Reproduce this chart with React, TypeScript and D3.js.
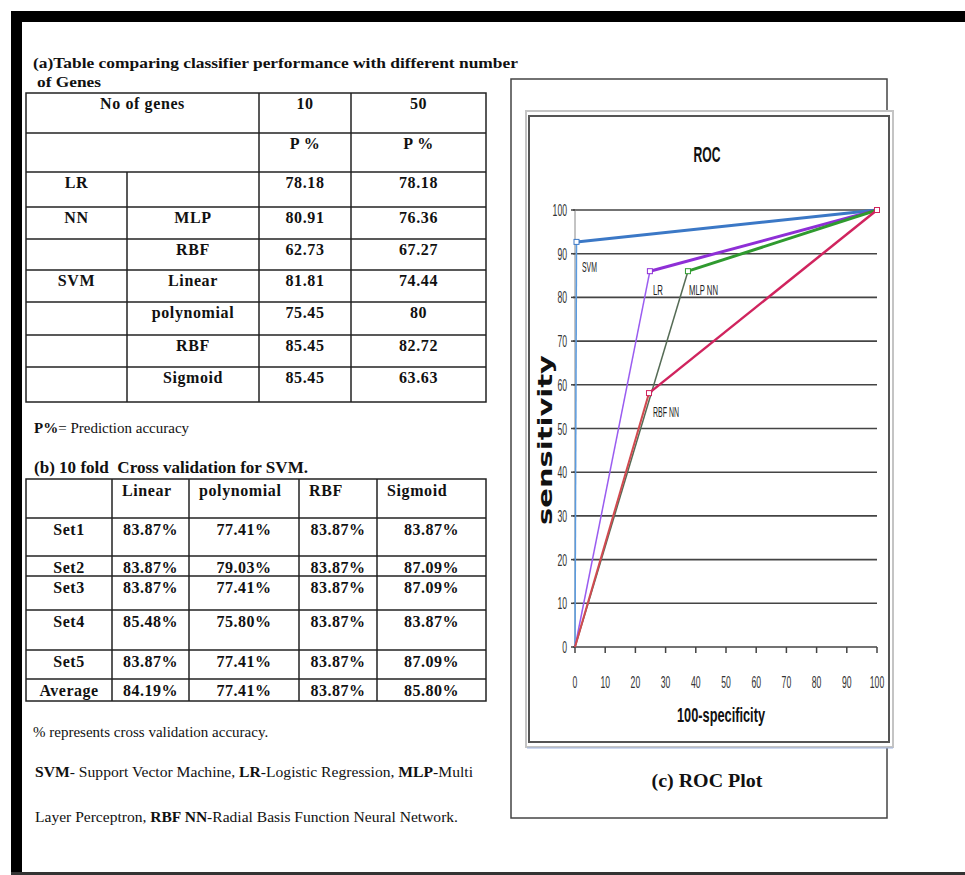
import React from "react";
import * as d3 from "d3";

// ---------- data ----------
const tableATitle1 = "(a)Table comparing classifier performance with different number";
const tableATitle2 = "of Genes";
const geneCounts = ["10", "50"];
const classifierGroup = ["LR", "NN", "", "SVM", "", "", ""];
const classifierType = ["", "MLP", "RBF", "Linear", "polynomial", "RBF", "Sigmoid"];
const p10 = ["78.18", "80.91", "62.73", "81.81", "75.45", "85.45", "85.45"];
const p50 = ["78.18", "76.36", "67.27", "74.44", "80", "82.72", "63.63"];

const tableBTitle = "(b) 10 fold  Cross validation for SVM.";
const svmKernels = ["Linear", "polynomial", "RBF", "Sigmoid"];
const cvSets = ["Set1", "Set2", "Set3", "Set4", "Set5", "Average"];
const cvLinear = ["83.87%", "83.87%", "83.87%", "85.48%", "83.87%", "84.19%"];
const cvPoly = ["77.41%", "79.03%", "77.41%", "75.80%", "77.41%", "77.41%"];
const cvRbf = ["83.87%", "83.87%", "83.87%", "83.87%", "83.87%", "83.87%"];
const cvSigmoid = ["83.87%", "87.09%", "87.09%", "83.87%", "87.09%", "85.80%"];

const rocNames = ["SVM", "LR", "MLP NN", "RBF NN"];
const svmFpr = [0, 0.5, 100];
const svmTpr = [0, 92.7, 100];
const lrFpr = [0, 24.8, 100];
const lrTpr = [0, 86, 100];
const mlpFpr = [0, 37.4, 100];
const mlpTpr = [0, 86, 100];
const rbfFpr = [0, 24.5, 100];
const rbfTpr = [0, 58.1, 100];
const axisTicks = [0, 10, 20, 30, 40, 50, 60, 70, 80, 90, 100];

// ---------- layout ----------
const W = 965, H = 875;
const serif = "'Liberation Serif', 'Times New Roman', serif";
const narrow = "'Liberation Sans Narrow', 'Liberation Sans', Arial, sans-serif";

const aLeft = 26, aRight = 486;
const aCols = [26, 127, 259, 351, 486];
const aRows = [93, 133, 172, 207, 239, 270, 302, 335, 367, 402];

const bCols = [26, 112, 189, 299, 377, 486];
const bRows = [479, 518, 556, 576, 610, 650, 679, 701];

const x = d3.scaleLinear().domain([0, 100]).range([575, 877]);
const y = d3.scaleLinear().domain([0, 100]).range([647, 210]);

const seriesStyle = [
  { upper: "#3b78c6", lower: "#5a9be0", wU: 3, wL: 1.5, lab: [582, 272], lw: 15 },
  { upper: "#8e2fd6", lower: "#9a5cf0", wU: 3, wL: 1.5, lab: [653, 295], lw: 10 },
  { upper: "#2f9a2f", lower: "#556b55", wU: 3, wL: 1.5, lab: [689, 295], lw: 29 },
  { upper: "#d0245e", lower: "#d24a50", wU: 2.5, wL: 2, lab: [653, 417], lw: 26 },
];

const rocFpr = [svmFpr, lrFpr, mlpFpr, rbfFpr];
const rocTpr = [svmTpr, lrTpr, mlpTpr, rbfTpr];

const line = d3.line<[number, number]>().x((d) => x(d[0])).y((d) => y(d[1]));

export default function App() {
  const cellA = (txt: string, c0: number, c1: number, r: number, key: string) => (
    <text key={key} x={(c0 + c1) / 2} y={r + 16} textAnchor="middle" fontFamily={serif}
      fontWeight="bold" fontSize={16} letterSpacing={0.6} fill="#111">{txt}</text>
  );
  return (
    <svg width={W} height={H} style={{ position: "absolute", left: 0, top: 0 }}
      xmlns="http://www.w3.org/2000/svg">
      <rect x={0} y={0} width={W} height={H} fill="#fff" />
      {/* page border */}
      <rect x={11} y={11} width={W - 11} height={11} fill="#000" />
      <rect x={11} y={11} width={11} height={H - 11} fill="#000" />
      <rect x={11} y={872} width={W - 11} height={3} fill="#333" />

      {/* ----- Table (a) ----- */}
      <text x={33} y={68} fontFamily={serif} fontWeight="bold" fontSize={15} textLength={485}
        lengthAdjust="spacingAndGlyphs" fill="#111">{tableATitle1}</text>
      <text x={37} y={87} fontFamily={serif} fontWeight="bold" fontSize={15} textLength={64}
        lengthAdjust="spacingAndGlyphs" fill="#111">{tableATitle2}</text>
      <g stroke="#222" strokeWidth={1.5} fill="none">
        <rect x={aLeft} y={aRows[0]} width={aRight - aLeft} height={aRows[aRows.length - 1] - aRows[0]} />
        {aRows.slice(1, -1).map((r) => <line key={r} x1={aLeft} x2={aRight} y1={r} y2={r} />)}
        <line x1={aCols[1]} x2={aCols[1]} y1={aRows[2]} y2={aRows[aRows.length - 1]} />
        <line x1={aCols[2]} x2={aCols[2]} y1={aRows[0]} y2={aRows[aRows.length - 1]} />
        <line x1={aCols[3]} x2={aCols[3]} y1={aRows[0]} y2={aRows[aRows.length - 1]} />
      </g>
      {cellA("No of genes", aCols[0], aCols[2], aRows[0], "hdr")}
      {geneCounts.map((g, i) => cellA(g, aCols[2 + i], aCols[3 + i], aRows[0], "g" + i))}
      {geneCounts.map((g, i) => cellA("P %", aCols[2 + i], aCols[3 + i], aRows[1], "p" + i))}
      {classifierGroup.map((g, i) => (
        <g key={"ra" + i}>
          {g && cellA(g, aCols[0], aCols[1], aRows[2 + i], "cg" + i)}
          {classifierType[i] && cellA(classifierType[i], aCols[1], aCols[2], aRows[2 + i], "ct" + i)}
          {cellA(p10[i], aCols[2], aCols[3], aRows[2 + i], "a10" + i)}
          {cellA(p50[i], aCols[3], aCols[4], aRows[2 + i], "a50" + i)}
        </g>
      ))}

      <text x={34} y={433} fontFamily={serif} fontSize={15} fill="#111">
        <tspan fontWeight="bold">P%</tspan>= Prediction accuracy
      </text>

      {/* ----- Table (b) ----- */}
      <text x={34} y={473} fontFamily={serif} fontWeight="bold" fontSize={16} textLength={274}
        lengthAdjust="spacingAndGlyphs" fill="#111" style={{ whiteSpace: "pre" }}>{tableBTitle}</text>
      <g stroke="#222" strokeWidth={1.5} fill="none">
        <rect x={bCols[0]} y={bRows[0]} width={bCols[5] - bCols[0]} height={bRows[7] - bRows[0]} />
        {bRows.slice(1, -1).map((r) => <line key={r} x1={bCols[0]} x2={bCols[5]} y1={r} y2={r} />)}
        {bCols.slice(1, -1).map((c) => <line key={c} x1={c} x2={c} y1={bRows[0]} y2={bRows[7]} />)}
      </g>
      {svmKernels.map((k, i) => (
        <text key={k} x={bCols[1 + i] + 10} y={bRows[0] + 17} fontFamily={serif} fontWeight="bold"
          fontSize={16} letterSpacing={0.6} fill="#111">{k}</text>
      ))}
      {cvSets.map((s, i) => {
        const vals = [s, cvLinear[i], cvPoly[i], cvRbf[i], cvSigmoid[i]];
        return (
          <g key={s}>
            {vals.map((v, j) => (
              <text key={j} x={(bCols[j] + bCols[j + 1]) / 2} y={bRows[1 + i] + 16.5} textAnchor="middle"
                fontFamily={serif} fontWeight="bold" fontSize={16} letterSpacing={0.5} fill="#111">{v}</text>
            ))}
          </g>
        );
      })}

      {/* notes */}
      <text x={33} y={737} fontFamily={serif} fontSize={15} fill="#111">% represents cross validation accuracy.</text>
      <text x={35} y={777} fontFamily={serif} fontSize={15} fill="#111" textLength={438} lengthAdjust="spacingAndGlyphs">
        <tspan fontWeight="bold">SVM</tspan>- Support Vector Machine, <tspan fontWeight="bold">LR</tspan>-Logistic Regression, <tspan fontWeight="bold">MLP</tspan>-Multi
      </text>
      <text x={35} y={822} fontFamily={serif} fontSize={15} fill="#111" textLength={423} lengthAdjust="spacingAndGlyphs">
        Layer Perceptron, <tspan fontWeight="bold">RBF NN</tspan>-Radial Basis Function Neural Network.
      </text>

      {/* ----- ROC panel ----- */}
      <rect x={511} y={79} width={376} height={739} fill="#fff" stroke="#444" strokeWidth={1.5} />
      <rect x={526} y={111} width={367} height={636} fill="#fff" stroke="#c4c4c4" strokeWidth={2} />
      <rect x={529} y={116} width={360} height={626} fill="#fff" stroke="#555" strokeWidth={2} />
      <line x1={527} x2={893} y1={748} y2={748} stroke="#9fb4e0" strokeWidth={1} />

      <text x={707} y={162} textAnchor="middle" fontFamily={narrow} fontWeight="bold" fontSize={22}
        textLength={27} lengthAdjust="spacingAndGlyphs" fill="#111">ROC</text>

      {/* grid */}
      <g>
        {axisTicks.map((t) => (
          <line key={"g" + t} x1={x(0) - 2} x2={x(100)} y1={y(t)} y2={y(t)} stroke="#444" strokeWidth={1.6} />
        ))}
        <line x1={x(0)} x2={x(0)} y1={y(0)} y2={y(100)} stroke="#888" strokeWidth={1} />
        {axisTicks.map((t) => (
          <line key={"xt" + t} x1={x(t)} x2={x(t)} y1={y(0)} y2={y(0) + 6} stroke="#444" strokeWidth={1.5} />
        ))}
        {axisTicks.map((t) => (
          <line key={"yt" + t} x1={x(0) - 4} x2={x(0)} y1={y(t)} y2={y(t)} stroke="#444" strokeWidth={1.5} />
        ))}
        {axisTicks.map((t) => (
          <text key={"yl" + t} x={567} y={y(t) + 6} textAnchor="end" fontFamily={narrow} fontSize={17}
            textLength={String(t).length * 4.8} lengthAdjust="spacingAndGlyphs" fill="#333">{t}</text>
        ))}
        {axisTicks.map((t) => (
          <text key={"xl" + t} x={x(t)} y={688} textAnchor="middle" fontFamily={narrow} fontSize={17}
            textLength={String(t).length * 4.8} lengthAdjust="spacingAndGlyphs" fill="#333">{t}</text>
        ))}
      </g>
      <text x={721} y={722} textAnchor="middle" fontFamily={narrow} fontWeight="bold" fontSize={20}
        textLength={88} lengthAdjust="spacingAndGlyphs" fill="#111">100-specificity</text>
      <text transform={`translate(552,440) rotate(-90)`} textAnchor="middle" fontFamily="'DejaVu Sans', sans-serif"
        fontWeight="900" fontSize={20} textLength={170} lengthAdjust="spacingAndGlyphs" fill="#111">sensitivity</text>

      {/* series */}
      {rocNames.map((name, i) => {
        const pts: [number, number][] = rocFpr[i].map((f, k) => [f, rocTpr[i][k]]);
        const st = seriesStyle[i];
        return (
          <g key={name}>
            <path d={line(pts.slice(0, 2)) || ""} fill="none" stroke={st.lower} strokeWidth={st.wL} />
            <path d={line(pts.slice(1, 3)) || ""} fill="none" stroke={st.upper} strokeWidth={st.wU} />
          </g>
        );
      })}
      {rocNames.map((name, i) => {
        const st = seriesStyle[i];
        return (
          <g key={"m" + name}>
            {rocFpr[i].slice(1).map((f, k) => (
              <rect key={k} x={x(f) - 2.5} y={y(rocTpr[i][k + 1]) - 2.5} width={5} height={5}
                fill="#fff" stroke={st.upper} strokeWidth={1} />
            ))}
            <text x={st.lab[0]} y={st.lab[1]} fontFamily={narrow} fontSize={14}
              textLength={st.lw} lengthAdjust="spacingAndGlyphs" fill="#222">{name}</text>
          </g>
        );
      })}

      <text x={707} y={787} textAnchor="middle" fontFamily={serif} fontWeight="bold" fontSize={19}
        textLength={111} lengthAdjust="spacingAndGlyphs" fill="#111">(c) ROC Plot</text>
    </svg>
  );
}
